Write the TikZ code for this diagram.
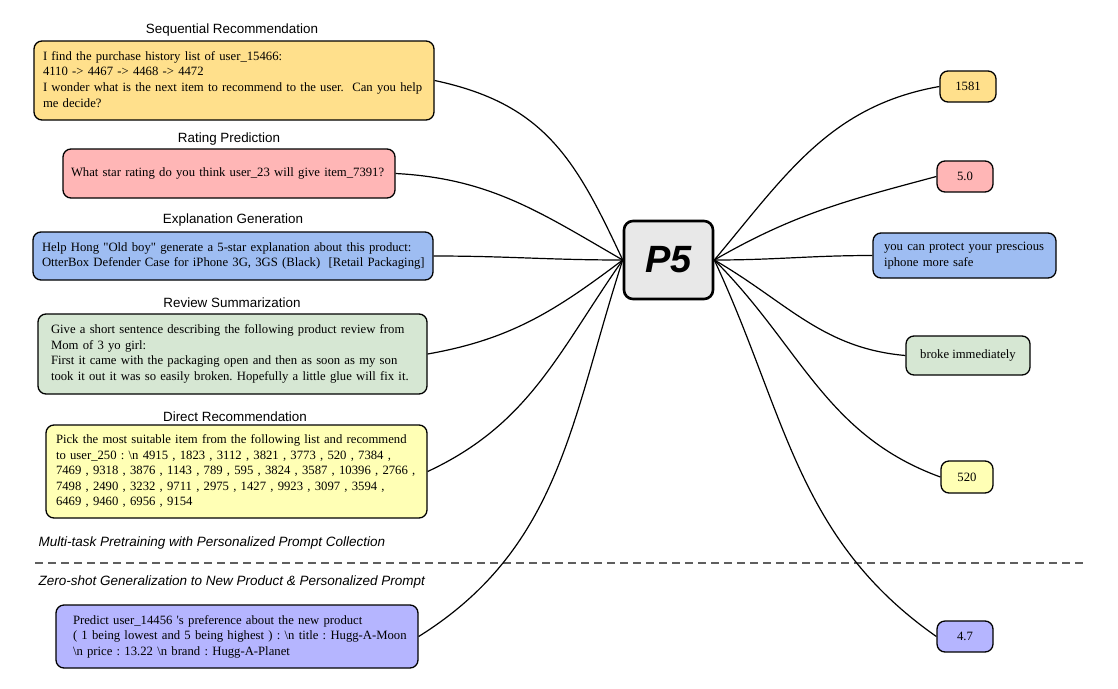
\documentclass[tikz,border=0pt]{standalone}
\usepackage{fontspec}
\setmainfont{Liberation Serif}
\setsansfont{Liberation Sans}
\definecolor{seqc}{RGB}{255,224,140}
\definecolor{ratc}{RGB}{255,182,182}
\definecolor{expc}{RGB}{158,189,242}
\definecolor{revc}{RGB}{214,231,211}
\definecolor{dirc}{RGB}{255,255,181}
\definecolor{zsc}{RGB}{181,181,255}
\definecolor{p5c}{RGB}{232,232,232}
\definecolor{dashc}{RGB}{95,95,95}
\newcommand{\boxlines}[1]{\begin{tabular}{@{}l@{}}#1\end{tabular}}
\frenchspacing
\begin{document}
\begin{tikzpicture}[x=1pt,y=-1pt,
  box/.style={draw, line width=1.3pt, rounded corners=8pt, inner ysep=0pt,
    font=\frenchspacing\fontsize{12.7}{15.6}\selectfont, align=left},
  rbox/.style={draw, line width=1.3pt, rounded corners=8pt, inner sep=0pt,
    font=\fontsize{12.7}{15.6}\selectfont, align=center},
  ttl/.style={font=\sffamily\fontsize{13.4}{15}\selectfont},
  sec/.style={font=\sffamily\itshape\fontsize{13.5}{15}\selectfont, anchor=west},
  link/.style={line width=1.2pt}]
\useasboundingbox (0,0) rectangle (1118,688);

% titles
\node[ttl] (t1) at (232,30) {Sequential Recommendation};
\node[ttl] (t2) at (229,139) {Rating Prediction};
\node[ttl] (t3) at (233,220) {Explanation Generation};
\node[ttl] (t4) at (232,303) {Review Summarization};
\node[ttl] (t5) at (235,417) {Direct Recommendation};

% left boxes
\node[box, fill=seqc, inner xsep=9pt, text width=382pt, minimum height=79pt] (seq) at (234,80.5)
 {\boxlines{I find the purchase history list of user\_15466:\\4110 -> 4467 -> 4468 -> 4472\\I wonder what is the next item to recommend to the user.~ Can you help\\me decide?}};
\node[box, fill=ratc, inner xsep=8pt, text width=316pt, minimum height=49pt] (rat) at (229,173.5)
 {\boxlines{What star rating do you think user\_23 will give item\_7391?}};
\node[box, fill=expc, inner xsep=9pt, text width=382pt, minimum height=48pt] (exp) at (233,256)
 {\boxlines{Help Hong \textquotedbl Old boy\textquotedbl{} generate a 5-star explanation about this product:\\OtterBox Defender Case for iPhone 3G, 3GS (Black)~ [Retail Packaging]}};
\node[box, fill=revc, inner xsep=13pt, text width=363pt, minimum height=80pt] (rev) at (232.5,354)
 {\boxlines{Give a short sentence describing the following product review from\\Mom of 3 yo girl:\\First it came with the packaging open and then as soon as my son\\took it out it was so easily broken. Hopefully a little glue will fix it.}};
\node[box, fill=dirc, inner xsep=10pt, text width=361pt, minimum height=93pt] (dir) at (236.5,471.5)
 {\boxlines{Pick the most suitable item from the following list and recommend\\to user\_250 : \textbackslash n 4915 , 1823 , 3112 , 3821 , 3773 , 520 , 7384 ,\\7469 , 9318 , 3876 , 1143 , 789 , 595 , 3824 , 3587 , 10396 , 2766 ,\\7498 , 2490 , 3232 , 9711 , 2975 , 1427 , 9923 , 3097 , 3594 ,\\6469 , 9460 , 6956 , 9154}};
\node[box, fill=zsc, inner xsep=17pt, text width=328pt, minimum height=63pt] (zs) at (237,636.5)
 {\boxlines{Predict user\_14456 \textquotesingle s preference about the new product\\( 1 being lowest and 5 being highest ) : \textbackslash n title : Hugg-A-Moon\\\textbackslash n price : 13.22 \textbackslash n brand : Hugg-A-Planet}};

% section labels and divider
\node[sec] (s1) at (35,543) {Multi-task Pretraining with Personalized Prompt Collection};
\node[sec] (s2) at (35,582) {Zero-shot Generalization to New Product \& Personalized Prompt};
\coordinate (dl) at (35,563);
\coordinate (dr) at (1085,563);
\draw[dashc, line width=1.4pt, dash pattern=on 8pt off 5pt] (dl) -- (dr);

% center
\node[draw, line width=2.6pt, rounded corners=9pt, fill=p5c, minimum width=89pt, minimum height=78pt,
  font=\sffamily\bfseries\itshape\fontsize{38}{40}\selectfont] (p5) at (668.5,260) {P5};

% right boxes
\node[rbox, fill=seqc, minimum width=56pt, minimum height=31pt] (o1) at (968,86.5) {1581};
\node[rbox, fill=ratc, minimum width=56pt, minimum height=31pt] (o2) at (965,176.5) {5.0};
\node[box, fill=expc, inner xsep=11pt, text width=161pt, minimum height=45pt] (o3) at (964.5,255.5)
 {\boxlines{you can protect your prescious\\iphone more safe}};
\node[rbox, fill=revc, minimum width=124pt, minimum height=39pt] (o4) at (968,355.5) {broke immediately};
\node[rbox, fill=dirc, minimum width=52pt, minimum height=32pt] (o5) at (967,477) {520};
\node[rbox, fill=zsc, minimum width=56pt, minimum height=31pt] (o6) at (965,636.5) {4.7};

% connectors left
\draw[link] (seq.east) to[out=-12, in=115, looseness=1.1] (p5.west);
\draw[link] (rat.east) to[out=-3, in=150, looseness=1.0] (p5.west);
\draw[link] (exp.east) to[out=0, in=180] (p5.west);
\draw[link] (rev.east) to[out=10, in=-143, looseness=1.0] (p5.west);
\draw[link] (dir.east) to[out=25, in=-125, looseness=1.0] (p5.west);
\draw[link] (zs.east) to[out=32, in=-108, looseness=1.0] (p5.west);

% connectors right
\draw[link] (p5.east) to[out=50, in=190, looseness=1.0] (o1.west);
\draw[link] (p5.east) to[out=30, in=195, looseness=1.0] (o2.west);
\draw[link] (p5.east) to[out=0, in=180] (o3.west);
\draw[link] (p5.east) to[out=-30, in=175, looseness=1.0] (o4.west);
\draw[link] (p5.east) to[out=-45, in=160, looseness=1.0] (o5.west);
\draw[link] (p5.east) to[out=-65, in=145, looseness=1.0] (o6.west);
\end{tikzpicture}
\end{document}
